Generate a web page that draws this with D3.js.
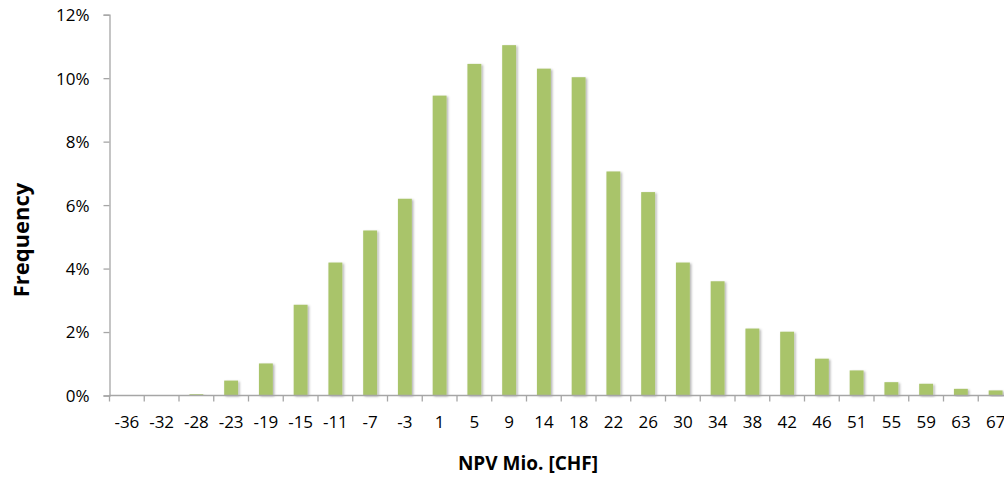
<!DOCTYPE html>
<html>
<head>
<meta charset="utf-8">
<script src="https://cdn.jsdelivr.net/npm/d3@7"></script>
<style>
  html, body { margin: 0; padding: 0; background: #fff; overflow: hidden; }
  svg { display: block; }
  text { font-family: "Open Sans", "Liberation Sans", sans-serif; fill: #000; }
</style>
</head>
<body>
<svg id="chart" width="1004" height="477"></svg>
<script>
// NPV bins (Mio. CHF) and share of simulation runs falling in each bin
const categories = [-36, -32, -28, -23, -19, -15, -11, -7, -3, 1, 5, 9, 14, 18, 22, 26, 30, 34, 38, 42, 46, 51, 55, 59, 63, 67];
const frequency = [0, 0, 0.0004, 0.0047, 0.0101, 0.0286, 0.0419, 0.052, 0.062, 0.0945, 0.1045, 0.1104, 0.103, 0.1003, 0.0706, 0.0641, 0.0419, 0.036, 0.0211, 0.0201, 0.0116, 0.0079, 0.0042, 0.0037, 0.0021, 0.0016];
const yTicks = [0, 0.02, 0.04, 0.06, 0.08, 0.10, 0.12];

const svg = d3.select("#chart");
const plot = { left: 109.5, right: 1013, top: 14.7, bottom: 395.5 };
const axisColor = "#a6a6a6";

const x = d3.scaleBand()
  .domain(categories.map(String))
  .range([plot.left, plot.right])
  .paddingInner(0.6)
  .paddingOuter(0.3);

const y = d3.scaleLinear()
  .domain([0, 0.12])
  .range([plot.bottom, plot.top]);

// soft shadow under each bar
const defs = svg.append("defs");
const f = defs.append("filter").attr("id", "barShadow")
  .attr("x", "-30%").attr("y", "-10%").attr("width", "170%").attr("height", "130%");
f.append("feDropShadow")
  .attr("dx", 1.5).attr("dy", 1).attr("stdDeviation", 1.2)
  .attr("flood-color", "#000").attr("flood-opacity", 0.3);

// bars
svg.append("g")
  .selectAll("rect")
  .data(categories.map((c, i) => ({ c: String(c), v: frequency[i] })))
  .join("rect")
  .attr("x", d => x(d.c))
  .attr("y", d => y(d.v))
  .attr("width", x.bandwidth())
  .attr("height", d => y(0) - y(d.v))
  .attr("fill", "#a9c46b")
  .attr("filter", d => d.v > 0 ? "url(#barShadow)" : null);

// y axis
const yAxis = svg.append("g")
  .attr("transform", `translate(${plot.left},0)`)
  .call(d3.axisLeft(y).tickValues(yTicks).tickFormat(d3.format(".0%")).tickSize(6).tickPadding(14));
yAxis.select(".domain").attr("stroke", axisColor).attr("stroke-width", 1.3);
yAxis.selectAll(".tick line").attr("stroke", axisColor).attr("stroke-width", 1.3);
yAxis.selectAll(".tick text").style("font-size", "17px").attr("dy", "0.35em");

// x axis: labels centered on bands, tick marks at band boundaries
const xAxis = svg.append("g")
  .attr("transform", `translate(0,${plot.bottom})`)
  .call(d3.axisBottom(x).tickSize(0).tickPadding(20));
xAxis.select(".domain").remove();
xAxis.selectAll(".tick text").style("font-size", "17px");

const step = x.step();
const boundaries = d3.range(categories.length + 1).map(i => plot.left + i * step);
const xLine = svg.append("g").attr("stroke", axisColor).attr("stroke-width", 1.3);
xLine.append("line")
  .attr("x1", plot.left).attr("x2", plot.right)
  .attr("y1", plot.bottom).attr("y2", plot.bottom);
xLine.selectAll("line.tk")
  .data(boundaries)
  .join("line")
  .attr("class", "tk")
  .attr("x1", d => d).attr("x2", d => d)
  .attr("y1", plot.bottom).attr("y2", plot.bottom + 6);

// axis titles
svg.append("text")
  .attr("x", 528).attr("y", 470)
  .attr("text-anchor", "middle")
  .style("font-size", "19px").style("font-weight", "bold")
  .text("NPV Mio. [CHF]");

svg.append("text")
  .attr("transform", "translate(29,240) rotate(-90)")
  .attr("text-anchor", "middle")
  .style("font-size", "22px").style("font-weight", "bold")
  .text("Frequency");
</script>
</body>
</html>
